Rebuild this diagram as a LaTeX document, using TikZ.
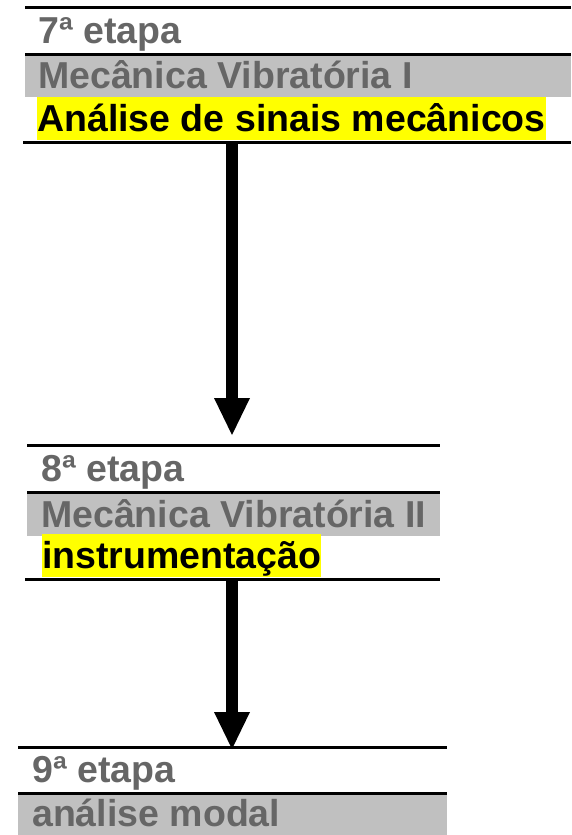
\documentclass[tikz,border=0pt]{standalone}
\usepackage{fontspec}
\setmainfont{Liberation Sans}
\usetikzlibrary{arrows.meta}

\definecolor{faixa}{HTML}{C0C0C0}
\definecolor{cinza}{HTML}{666666}
\definecolor{marca}{HTML}{FFFF00}

\begin{document}
\begin{tikzpicture}[x=1pt,y=-1pt,
  titulo/.style={anchor=base west,inner sep=0pt,text=cinza,
    font=\bfseries\fontsize{37.5}{40}\selectfont},
  tema/.style={anchor=base west,inner sep=0pt,fill=marca,text=black,
    text height=34pt,text depth=8.5pt,
    font=\bfseries\fontsize{37.5}{40}\selectfont},
  regua/.style={line width=3pt},
  seta/.style={line width=12pt,-{Triangle[width=36pt,length=37pt,line width=0pt]}}]

\useasboundingbox (0,0) rectangle (571,835);

% 7a etapa
\fill[faixa] (25,55) rectangle (571,97);
\draw[regua] (25,7)--(571,7);
\draw[regua] (25,54)--(571,54);
\draw[regua] (23,142)--(571,142);
\node[titulo] (etapa7) at (38,43) {7ª etapa};
\node[titulo] (disc7) at (38,88) {Mecânica Vibratória I};
\node[tema] (tema7) at (37,131) {Análise de sinais mecânicos};

% 8a etapa
\fill[faixa] (27,493) rectangle (440,536);
\draw[regua] (27,445)--(440,445);
\draw[regua] (27,492)--(440,492);
\draw[regua] (25,579)--(440,579);
\node[titulo] (etapa8) at (41,481) {8ª etapa};
\node[titulo] (disc8) at (41,527) {Mecânica Vibratória II};
\node[tema] (tema8) at (42,568) {instrumentação};

% 9a etapa
\fill[faixa] (18,794) rectangle (447,835);
\draw[regua] (18,747)--(447,747);
\draw[regua] (18,793)--(447,793);
\node[titulo] (etapa9) at (32,782) {9ª etapa};
\node[titulo] (disc9) at (32,826) {análise modal};

% setas
\coordinate (s1) at (232,144);
\coordinate (c1) at (232,435);
\coordinate (s2) at (232,581);
\coordinate (c2) at (232,749);
\draw[seta] (s1)--(c1);
\draw[seta] (s2)--(c2);

\end{tikzpicture}
\end{document}
